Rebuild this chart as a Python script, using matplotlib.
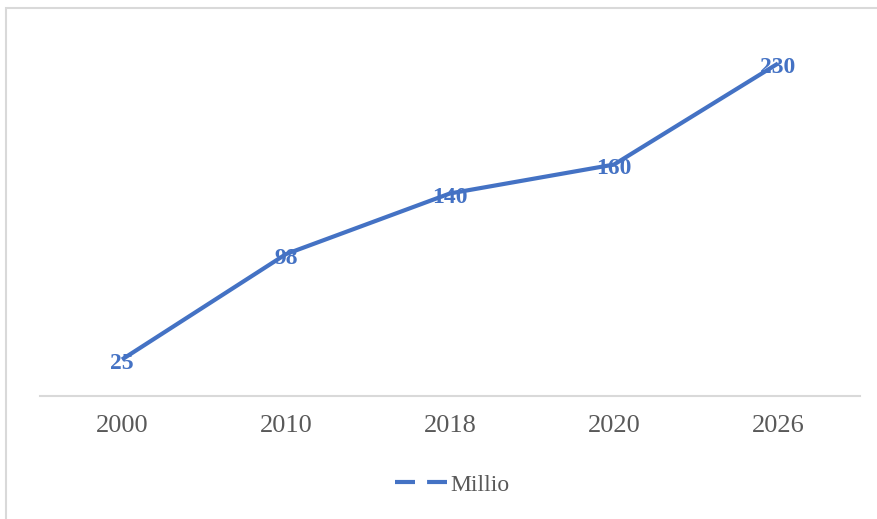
import matplotlib.pyplot as plt
from matplotlib.patches import Rectangle
from matplotlib.lines import Line2D

# Chart data
years = ["2000", "2010", "2018", "2020", "2026"]
millio = [25, 98, 140, 160, 230]

blue = "#4472C4"
grey_text = "#595959"
grey_line = "#D9D9D9"
serif = "Liberation Serif"

fig = plt.figure(figsize=(8.77, 5.19), dpi=100)

# Outer chart border (Excel-style)
fig.patches.append(Rectangle((6 / 877, -0.1), 1.2, 1 - 8 / 519 + 0.1,
                             transform=fig.transFigure, fill=False,
                             edgecolor=grey_line, lw=1.5))

ax = fig.add_axes([40 / 877, 1 - 395.6 / 519, 820 / 877, (395.6 - 34.6) / 519])
x = list(range(len(years)))
ax.plot(x, millio, color=blue, lw=3, solid_capstyle="butt")

for xi, v in zip(x, millio):
    ax.annotate(str(v), (xi, v), xytext=(0, -3), textcoords="offset points",
                ha="center", va="center", color=blue, fontsize=17,
                fontweight="bold", family=serif)

ax.set_xlim(-0.5, len(years) - 0.5)
ax.set_ylim(0, 250)
ax.set_xticks(x)
ax.set_xticklabels(years, family=serif, fontsize=19, color=grey_text)
ax.tick_params(axis="x", length=0, pad=14)
ax.set_yticks([])
for side in ["top", "right", "left"]:
    ax.spines[side].set_visible(False)
ax.spines["bottom"].set_color(grey_line)
ax.spines["bottom"].set_linewidth(1.5)

handle = Line2D([], [], color=blue, lw=3, linestyle=(0, (4.8, 2.9)))
leg = fig.legend([handle], ["Millio"], loc="center", bbox_to_anchor=(452 / 877, 1 - 485 / 519),
                 frameon=False, prop={"family": serif, "size": 17},
                 handlelength=2.2, handletextpad=0.15)
for t in leg.get_texts():
    t.set_color(grey_text)

fig.savefig("out.png", dpi=100)
